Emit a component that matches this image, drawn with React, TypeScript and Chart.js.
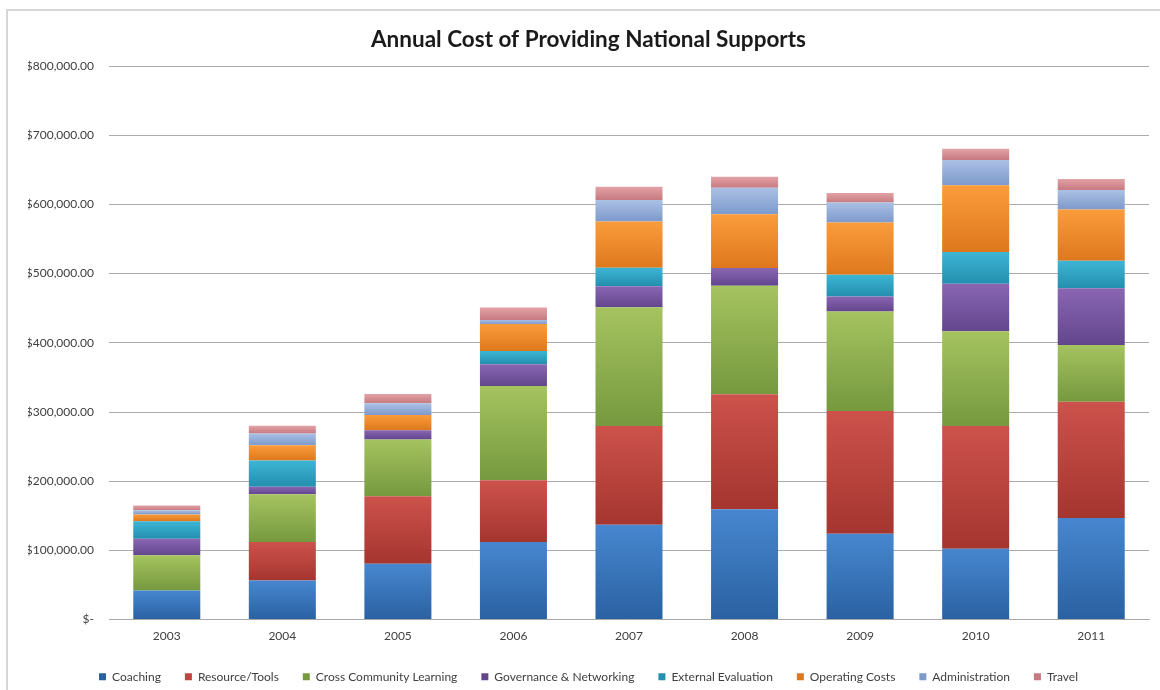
import React, { useEffect, useRef } from "react";
import { Chart, registerables } from "chart.js";

Chart.register(...registerables);

const years = ["2003", "2004", "2005", "2006", "2007", "2008", "2009", "2010", "2011"];
const coaching = [42000, 56500, 80700, 112000, 137000, 159400, 124000, 102400, 146900];
const resourceTools = [0, 55500, 97600, 89400, 142700, 166200, 177400, 177300, 168000];
const crossCommunity = [51000, 69000, 82000, 136300, 171500, 157000, 144000, 137000, 82000];
const governance = [24000, 11000, 13500, 31400, 30600, 25600, 21600, 68600, 82000];
const externalEval = [25000, 38000, 0, 19000, 26600, 0, 31400, 46000, 39800];
const operating = [10000, 22000, 21800, 39000, 67000, 77500, 75400, 96500, 74000];
const administration = [6000, 17000, 17000, 6000, 31000, 38500, 29000, 36300, 28000];
const travel = [7000, 11000, 13400, 18000, 19000, 15600, 13500, 16200, 16000];

const seriesNames = [
  "Coaching",
  "Resource/Tools",
  "Cross Community Learning",
  "Governance & Networking",
  "External Evaluation",
  "Operating Costs",
  "Administration",
  "Travel",
];
const seriesValues = [coaching, resourceTools, crossCommunity, governance, externalEval, operating, administration, travel];
const topColors = ["#4787cf", "#cd524c", "#a5c35f", "#8a66b3", "#3db5d5", "#fa9c3c", "#abc0e5", "#e2a2a6"];
const bottomColors = ["#2a61a2", "#a5352f", "#76993f", "#62468d", "#248fae", "#de781c", "#7d9acb", "#c67a80"];
const midColors = ["#3a76bb", "#bd4640", "#8eaf4f", "#7457a0", "#31a3c3", "#ee8a2c", "#95add8", "#d48e93"];

const legendHeightPlugin = {
  id: "legendHeight",
  beforeLayout(chart: any) {
    const lg = chart.legend;
    if (lg && !lg.__patched) {
      const orig = lg.fit.bind(lg);
      lg.fit = function () {
        orig();
        this.height = 43.2;
      };
      lg.__patched = true;
    }
  },
};

export default function App() {
  const canvasRef = useRef<HTMLCanvasElement | null>(null);

  useEffect(() => {
    const canvas = canvasRef.current;
    if (!canvas) return;

    const datasets = seriesNames.map((name, i) => ({
      label: name,
      data: seriesValues[i],
      backgroundColor: (ctx: any) => {
        if (ctx.type !== "data") return midColors[i];
        const chart = ctx.chart;
        const yScale = chart.scales?.y;
        const j = ctx.dataIndex;
        if (!yScale || !chart.ctx) return midColors[i];
        let base = 0;
        for (let k = 0; k < i; k++) base += seriesValues[k][j];
        const top = base + seriesValues[i][j];
        const y0 = yScale.getPixelForValue(top);
        const y1 = yScale.getPixelForValue(base);
        if (!isFinite(y0) || !isFinite(y1) || y0 === y1) return midColors[i];
        const g = chart.ctx.createLinearGradient(0, y0, 0, y1);
        g.addColorStop(0, topColors[i]);
        g.addColorStop(1, bottomColors[i]);
        return g;
      },
      borderWidth: 0,
      categoryPercentage: 1,
      barPercentage: 0.58,
    }));

    const chart = new Chart(canvas, {
      type: "bar",
      data: { labels: years, datasets },
      plugins: [legendHeightPlugin],
      options: {
        animation: false,
        responsive: false,
        maintainAspectRatio: false,
        layout: { padding: { left: 28, right: 11, top: 0, bottom: 0 } },
        plugins: {
          title: {
            display: true,
            text: "Annual Cost of Providing National Supports",
            color: "#1a1a1a",
            font: { family: "Lato", size: 22.5, weight: "bold", lineHeight: 1.2 },
            padding: { top: 26.5, bottom: 12.5 },
          },
          legend: {
            display: true,
            position: "bottom",
            labels: {
              boxWidth: 7,
              boxHeight: 7,
              padding: 24,
              color: "#404040",
              font: { family: "Lato", size: 12 },
            },
          },
          tooltip: { enabled: false },
        },
        scales: {
          x: {
            stacked: true,
            afterFit: (s: any) => {
              s.height = 27.2;
            },
            grid: { display: false, drawTicks: false },
            border: { display: true, color: "#a8a8a8", width: 1 },
            ticks: { color: "#404040", font: { family: "Lato", size: 12 }, padding: 9 },
          },
          y: {
            stacked: true,
            min: 0,
            max: 800000,
            afterFit: (s: any) => {
              s.width = 81;
            },
            grid: { color: "#ababab", lineWidth: 1, drawTicks: false },
            border: { display: false },
            ticks: {
              stepSize: 100000,
              padding: 15,
              color: "#404040",
              font: { family: "Lato", size: 12 },
              callback: (v: any) =>
                Number(v) === 0
                  ? "$-"
                  : "$" + Number(v).toLocaleString("en-US", { minimumFractionDigits: 2, maximumFractionDigits: 2 }),
            },
          },
        },
      },
    });

    return () => chart.destroy();
  }, []);

  return (
    <div style={{ position: "absolute", left: 0, top: 0, width: 1160, height: 690, background: "#ffffff", overflow: "hidden" }}>
      <div
        style={{
          position: "absolute",
          left: 6,
          top: 9,
          width: 1200,
          height: 800,
          borderTop: "2px solid #d6d6d6",
          borderLeft: "2px solid #d6d6d6",
        }}
      />
      <canvas ref={canvasRef} width={1160} height={690} style={{ position: "absolute", left: 0, top: 0 }} />
    </div>
  );
}
